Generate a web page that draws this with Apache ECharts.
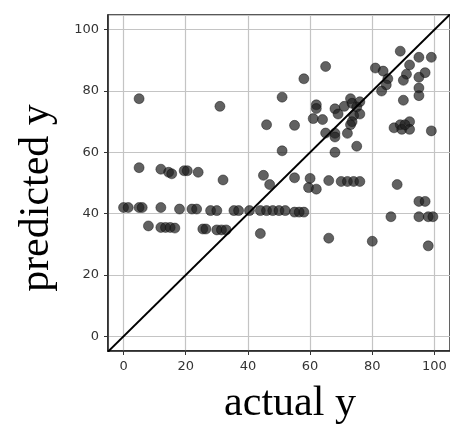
<!DOCTYPE html>
<html>
<head>
<meta charset="utf-8">
<script src="https://cdn.jsdelivr.net/npm/echarts@6/dist/echarts.min.js"></script>
<style>
  html, body { margin: 0; padding: 0; background: #fff; }
  #main { width: 450px; height: 425px; }
</style>
</head>
<body>
<div id="main"></div>
<script>
// actual / predicted values
var actual = [
  0, 1.5, 5, 6, 12, 18, 22, 23.5, 28, 30, 35.5, 37, 40.5, 44, 46, 48, 50, 52, 55, 56.5, 58,
  8, 12, 13.5, 15, 16.5, 25.5, 26.5, 30, 31.5, 33, 44,
  5, 31, 46, 5, 12, 14.5, 15.5, 19.5, 20.5, 24, 32, 45, 47,
  59.5, 62, 60, 55, 66, 70, 72, 74, 76, 88, 95, 97, 86, 95, 98, 99.5, 66, 80, 98,
  89, 65, 58, 95, 99, 92, 81, 83.5, 85, 84.5, 83, 91, 90, 97, 95, 95, 95, 90,
  51, 62, 62, 68, 69, 71, 73, 73.5, 76, 75, 76, 74, 73.5, 73, 72, 61, 64, 55,
  65, 68, 68, 75, 68, 51, 87, 89, 89.5, 92, 92, 90.5, 99
];
var predicted = [
  42, 42, 42, 42, 42, 41.5, 41.5, 41.5, 41, 41, 41, 41, 41, 41, 41, 41, 41, 41, 40.5, 40.5, 40.5,
  36, 35.5, 35.5, 35.5, 35.3, 35, 35, 34.7, 34.7, 34.7, 33.5,
  77.5, 75, 69, 55, 54.5, 53.5, 53, 54, 54, 53.5, 51, 52.5, 49.5,
  48.5, 48, 51.5, 51.7, 50.8, 50.5, 50.5, 50.5, 50.5, 49.5, 44, 44, 39, 39, 39, 39, 32, 31, 29.5,
  93, 88, 84, 91, 91, 88.5, 87.5, 86.5, 84, 82, 80, 85.5, 83.5, 86, 84.5, 81, 78.5, 77,
  78, 75.5, 74.3, 74.2, 72.5, 75, 77.5, 76, 76.5, 74.8, 72.5, 72, 70, 69, 66.2, 71, 70.7, 68.8,
  66.3, 66.2, 65, 62, 60, 60.5, 68, 69, 67.5, 70, 67.5, 69, 67
];
var xRange = [-5, 105];
var yRange = [-4.8, 104.8];

var points = [];
for (var i = 0; i < actual.length; i++) {
  points.push([actual[i], predicted[i]]);
}

var chart = echarts.init(document.getElementById('main'));

var option = {
  animation: false,
  grid: {
    left: 108, top: 15, width: 344, height: 336,
    show: true, borderColor: '#222', borderWidth: 1.5
  },
  xAxis: {
    type: 'value',
    min: xRange[0], max: xRange[1], splitNumber: 5,
    axisLine: { show: true, onZero: false, lineStyle: { color: '#222', width: 1.5 } },
    axisTick: { show: true, length: 4, lineStyle: { color: '#333' } },
    axisLabel: {
      showMinLabel: false, showMaxLabel: false, margin: 9,
      fontFamily: 'DejaVu Sans', fontSize: 13, color: '#333'
    },
    splitLine: { show: true, lineStyle: { color: '#c4c4c4', width: 1.2 } }
  },
  yAxis: {
    type: 'value',
    min: yRange[0], max: yRange[1], splitNumber: 5,
    axisLine: { show: true, onZero: false, lineStyle: { color: '#222', width: 1.5 } },
    axisTick: { show: true, length: 4, lineStyle: { color: '#333' } },
    axisLabel: {
      showMinLabel: false, showMaxLabel: false, margin: 9,
      fontFamily: 'DejaVu Sans', fontSize: 13, color: '#333'
    },
    splitLine: { show: true, lineStyle: { color: '#c4c4c4', width: 1.2 } }
  },
  graphic: [
    {
      type: 'text', x: 290, y: 404,
      style: {
        text: 'actual y', fill: '#000',
        font: '42px "Liberation Serif"',
        textAlign: 'center', textVerticalAlign: 'middle'
      }
    },
    {
      type: 'text', x: 37, y: 198, rotation: Math.PI / 2,
      style: {
        text: 'predicted y', fill: '#000',
        font: '42px "Liberation Serif"',
        textAlign: 'center', textVerticalAlign: 'middle'
      }
    }
  ],
  series: [
    {
      type: 'scatter',
      data: points,
      symbolSize: 10,
      itemStyle: {
        color: 'rgba(30,30,30,0.88)',
        borderColor: 'rgba(10,10,10,0.9)',
        borderWidth: 0.6
      },
      z: 3
    },
    {
      type: 'line',
      data: [[xRange[0], xRange[0]], [xRange[1], xRange[1]]],
      symbol: 'none',
      clip: true,
      lineStyle: { color: '#000', width: 2 },
      z: 4
    }
  ]
};

chart.setOption(option);
</script>
</body>
</html>
